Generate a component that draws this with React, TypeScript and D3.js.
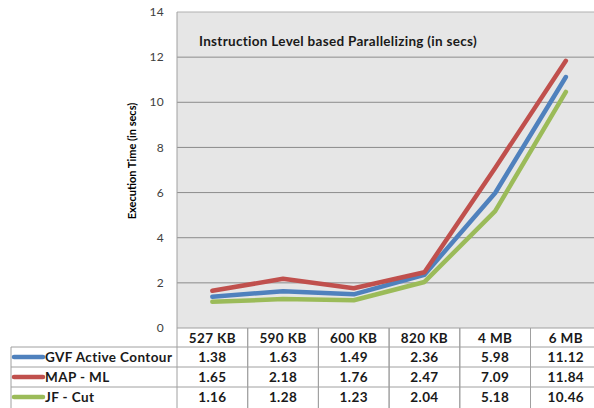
import React from "react";
import * as d3 from "d3";

const categories = ["527 KB", "590 KB", "600 KB", "820 KB", "4 MB", "6 MB"];
const seriesNames = ["GVF Active Contour", "MAP - ML", "JF - Cut"];
const gvf = [1.38, 1.63, 1.49, 2.36, 5.98, 11.12];
const mapml = [1.65, 2.18, 1.76, 2.47, 7.09, 11.84];
const jfcut = [1.16, 1.28, 1.23, 2.04, 5.18, 10.46];
const yTicks = [0, 2, 4, 6, 8, 10, 12, 14];
const colors = ["#4f81bd", "#c0504d", "#9bbb59"];
const title = "Instruction Level based Parallelizing (in secs)";
const yTitle = "Execution Time  (in secs)";

const W = 594;
const H = 408;
const left = 177;
const right = 601.2;
const top = 12;
const bottom = 328;
const rowH = 20;
const legendLeft = 11;
const font = "Lato, 'Open Sans', sans-serif";

export default function App() {
  const series = [gvf, mapml, jfcut];
  const x = d3.scaleBand<string>().domain(categories).range([left, right]);
  const y = d3.scaleLinear().domain([0, 14]).range([bottom, top]);
  const line = d3
    .line<number>()
    .x((_, i) => (x(categories[i]) as number) + x.bandwidth() / 2)
    .y((d) => y(d));

  const headerBottom = bottom + 19;
  const rowTops = seriesNames.map((_, i) => headerBottom + i * rowH);
  const tableBottom = headerBottom + seriesNames.length * rowH + 4;
  const gridColor = "#8c8c8c";
  const tableColor = "#a0a0a0";
  const tableText = {
    fontFamily: font,
    fontWeight: "bold" as const,
    fontSize: 13.5,
    letterSpacing: 0.4,
    fill: "#1a1a1a",
  };

  return (
    <svg
      width={W}
      height={H}
      style={{ position: "absolute", left: 0, top: 0, background: "#fff" }}
    >
      <rect x={left} y={top} width={right - left} height={bottom - top} fill="#e6e6e6" />
      {yTicks.map((t) => (
        <g key={t}>
          {t > 0 && (
            <line x1={left} x2={right} y1={y(t)} y2={y(t)} stroke={t === 14 ? "#b0b0b0" : gridColor} strokeWidth={1} />
          )}
          <text
            x={164}
            y={y(t)}
            dy="0.35em"
            textAnchor="end"
            fontFamily={font}
            fontSize={12}
            letterSpacing={0.3}
            fill="#404040"
          >
            {t}
          </text>
        </g>
      ))}
      <line x1={left} x2={left} y1={top} y2={bottom} stroke={tableColor} />
      <text
        x={199}
        y={41}
        dy="0.35em"
        fontFamily={font}
        fontWeight="bold"
        fontSize={13.5}
        letterSpacing={0.3}
        fill="#1a1a1a"
      >
        {title}
      </text>
      <text
        transform={`translate(132,${161}) rotate(-90)`}
        textAnchor="middle"
        dy="0.35em"
        fontFamily={font}
        fontWeight="bold"
        fontSize={11}
        fill="#000"
      >
        {yTitle}
      </text>
      {series.map((s, i) => (
        <path
          key={i}
          d={line(s) as string}
          fill="none"
          stroke={colors[i]}
          strokeWidth={4.5}
          strokeLinejoin="round"
          strokeLinecap="round"
        />
      ))}
      {/* table */}
      <line x1={left} x2={right} y1={bottom} y2={bottom} stroke={tableColor} />
      {rowTops.map((r, i) => (
        <line key={i} x1={legendLeft} x2={right} y1={r} y2={r} stroke={tableColor} />
      ))}
      <line x1={legendLeft} x2={legendLeft} y1={headerBottom} y2={tableBottom} stroke={tableColor} />
      {categories.map((c) => (
        <g key={c}>
          <line
            x1={(x(c) as number) + x.bandwidth()}
            x2={(x(c) as number) + x.bandwidth()}
            y1={bottom}
            y2={tableBottom}
            stroke={tableColor}
          />
          <line x1={x(c) as number} x2={x(c) as number} y1={bottom} y2={tableBottom} stroke={tableColor} />
          <text
            x={(x(c) as number) + x.bandwidth() / 2}
            y={bottom + 10}
            dy="0.35em"
            textAnchor="middle"
            {...tableText}
          >
            {c}
          </text>
        </g>
      ))}
      {seriesNames.map((n, i) => (
        <g key={n}>
          <line
            x1={14}
            x2={43}
            y1={rowTops[i] + 10}
            y2={rowTops[i] + 10}
            stroke={colors[i]}
            strokeWidth={4.5}
            strokeLinecap="round"
          />
          <text x={45} y={rowTops[i] + 10} dy="0.35em" {...tableText}>
            {n}
          </text>
          {series[i].map((v, j) => (
            <text
              key={j}
              x={(x(categories[j]) as number) + x.bandwidth() / 2}
              y={rowTops[i] + 10}
              dy="0.35em"
              textAnchor="middle"
              {...tableText}
            >
              {v.toFixed(2)}
            </text>
          ))}
        </g>
      ))}
    </svg>
  );
}
